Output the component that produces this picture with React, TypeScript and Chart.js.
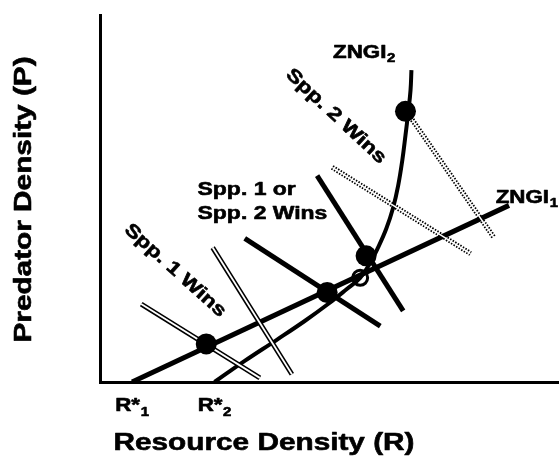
import { useEffect, useRef } from "react";
import { Chart, registerables } from "chart.js";

Chart.register(...registerables);

// ---- Data (Resource density R on x, Predator density P on y) ----
const zngi1R = [0.7, 8.93];
const zngi1P = [0.0, 3.85];

const zngi2R = [2.5, 3.16, 3.86, 4.47, 4.98, 5.37, 5.68, 5.9, 6.07, 6.25, 6.4, 6.51, 6.6, 6.67, 6.73, 6.78, 6.8];
const zngi2P = [0.0, 0.46, 0.92, 1.33, 1.7, 2.01, 2.27, 2.6, 2.93, 3.34, 3.8, 4.28, 4.83, 5.38, 5.88, 6.36, 6.8];

const stableR = [2.32, 4.96, 5.81, 6.67];
const stableP = [0.83, 1.95, 2.75, 5.9];

const unstableR = [5.68];
const unstableP = [2.27];

// supply / consumption vectors
const spp1VectorAR = [0.9, 3.49];
const spp1VectorAP = [1.7, 0.09];
const spp1VectorBR = [2.46, 4.19];
const spp1VectorBP = [2.93, 0.17];
const mixedVectorAR = [3.16, 6.12];
const mixedVectorAP = [3.13, 1.22];
const mixedVectorBR = [4.74, 6.62];
const mixedVectorBP = [4.5, 1.55];
const spp2VectorAR = [5.07, 8.09];
const spp2VectorAP = [4.68, 2.8];
const spp2VectorBR = [6.78, 8.6];
const spp2VectorBP = [5.77, 3.15];

// axis tick labels (R* values)
const rStarValues = [0.7, 2.5];
const rStarSubs = ["1", "2"];

const xTitle = "Resource Density (R)";
const yTitle = "Predator Density (P)";

const FONT = '"Liberation Sans", Arial, Helvetica, sans-serif';
const STRETCH = 1.24;

const pts = (r: number[], p: number[]) => r.map((x, i) => ({ x, y: p[i] }));

function drawText(
  ctx: CanvasRenderingContext2D,
  main: string,
  sub: string,
  x: number,
  y: number,
  size: number,
  subSize: number,
  subDy: number,
  angle = 0,
  align: "left" | "center" = "left",
  baseline: CanvasTextBaseline = "alphabetic"
) {
  ctx.save();
  ctx.translate(x, y);
  ctx.rotate(angle);
  ctx.scale(STRETCH, 1);
  ctx.textBaseline = baseline;
  ctx.textAlign = "left";
  ctx.strokeStyle = "#000";
  ctx.lineWidth = 0.6;
  ctx.lineJoin = "round";
  ctx.font = `bold ${size}px ${FONT}`;
  const w = ctx.measureText(main).width;
  ctx.font = `bold ${subSize}px ${FONT}`;
  const sw = sub ? ctx.measureText(sub).width + 0.5 : 0;
  const start = align === "center" ? -(w + sw) / 2 : 0;
  ctx.font = `bold ${size}px ${FONT}`;
  ctx.fillText(main, start, 0);
  ctx.strokeText(main, start, 0);
  if (sub) {
    ctx.font = `bold ${subSize}px ${FONT}`;
    ctx.fillText(sub, start + w + 0.5, subDy);
    ctx.strokeText(sub, start + w + 0.5, subDy);
  }
  ctx.restore();
}

const labelsPlugin = {
  id: "diagramLabels",
  afterDatasetsDraw(chart: any) {
    const { ctx, scales } = chart;
    const xs = scales.x;
    const ys = scales.y;
    const px = (v: number) => xs.getPixelForValue(v);
    const py = (v: number) => ys.getPixelForValue(v);
    ctx.save();
    ctx.fillStyle = "#000";

    drawText(ctx, "ZNGI", "2", px(5.09), py(7.06), 18, 12, 4);
    drawText(ctx, "ZNGI", "1", px(8.64), py(3.91), 18, 12, 4);
    drawText(ctx, "Spp. 1 or", "", px(2.13), py(4.07), 18.5, 12, 0);
    drawText(ctx, "Spp. 2 Wins", "", px(2.13), py(3.56), 18.5, 12, 0);
    drawText(ctx, "Spp. 2 Wins", "", px(5.15), py(5.79), 18.5, 12, 0, (43 * Math.PI) / 180, "center", "middle");
    drawText(ctx, "Spp. 1 Wins", "", px(1.64), py(2.43), 18.5, 12, 0, (42 * Math.PI) / 180, "center", "middle");

    // R* tick labels
    rStarValues.forEach((v, i) => {
      drawText(ctx, "R*", rStarSubs[i], px(v), ys.bottom + 29, 18, 12, 5, 0, "center");
    });

    // axis titles
    drawText(ctx, xTitle, "", 264, ys.bottom + 68, 24, 12, 0, 0, "center");
    drawText(ctx, yTitle, "", 31, (ys.top + ys.bottom) / 2 + 1, 24, 12, 0, -Math.PI / 2, "center");
    ctx.restore();
  },
};

export default function App() {
  const ref = useRef<HTMLCanvasElement | null>(null);

  useEffect(() => {
    document.body.style.margin = "0";
    const canvas = ref.current;
    if (!canvas) return;

    const line = (r: number[], p: number[], width: number, extra: any = {}) => ({
      data: pts(r, p),
      showLine: true,
      borderColor: "#000",
      borderWidth: width,
      pointRadius: 0,
      fill: false,
      borderCapStyle: "butt",
      ...extra,
    });

    const chart = new Chart(canvas, {
      type: "scatter",
      data: {
        datasets: [
          // ZNGI lines
          { ...line(zngi1R, zngi1P, 5), order: 10 },
          { ...line(zngi2R, zngi2P, 4, { tension: 0.4 }), order: 10 },
          // double (hollow) lines
          { ...line(spp1VectorAR, spp1VectorAP, 5), order: 8 },
          { ...line(spp1VectorAR, spp1VectorAP, 1.8, { borderColor: "#fff" }), order: 7 },
          { ...line(spp1VectorBR, spp1VectorBP, 5), order: 8 },
          { ...line(spp1VectorBR, spp1VectorBP, 1.8, { borderColor: "#fff" }), order: 7 },
          // thick black vectors
          { ...line(mixedVectorAR, mixedVectorAP, 5), order: 6 },
          { ...line(mixedVectorBR, mixedVectorBP, 5), order: 6 },
          // dotted double lines
          { ...line(spp2VectorAR, spp2VectorAP, 5, { borderDash: [1.5, 1.5] }), order: 5 },
          { ...line(spp2VectorAR, spp2VectorAP, 1.4, { borderColor: "#fff" }), order: 4 },
          { ...line(spp2VectorBR, spp2VectorBP, 5, { borderDash: [1.5, 1.5] }), order: 5 },
          { ...line(spp2VectorBR, spp2VectorBP, 1.4, { borderColor: "#fff" }), order: 4 },
          // equilibria
          {
            data: pts(stableR, stableP),
            pointRadius: 10.5,
            pointBackgroundColor: "#000",
            pointBorderColor: "#000",
            pointBorderWidth: 0,
            order: 1,
          },
          {
            data: pts(unstableR, unstableP),
            pointRadius: 7.5,
            pointBackgroundColor: "rgba(255,255,255,0)",
            pointBorderColor: "#000",
            pointBorderWidth: 3,
            order: 0,
          },
        ],
      },
      options: {
        animation: false,
        responsive: false,
        events: [],
        layout: { autoPadding: false, padding: { left: 100, right: 2, top: 15, bottom: 79 } },
        plugins: {
          legend: { display: false },
          tooltip: { enabled: false },
        },
        scales: {
          x: {
            type: "linear",
            min: 0,
            max: 10,
            ticks: { display: false },
            grid: { display: false, drawTicks: false },
            border: { display: true, color: "#000", width: 3 },
          },
          y: {
            type: "linear",
            min: 0,
            max: 8,
            ticks: { display: false },
            grid: { display: false, drawTicks: false },
            border: { display: true, color: "#000", width: 3 },
          },
        },
      },
      plugins: [labelsPlugin],
    } as any);

    return () => chart.destroy();
  }, []);

  return <canvas ref={ref} width={560} height={461} style={{ display: "block" }} />;
}
